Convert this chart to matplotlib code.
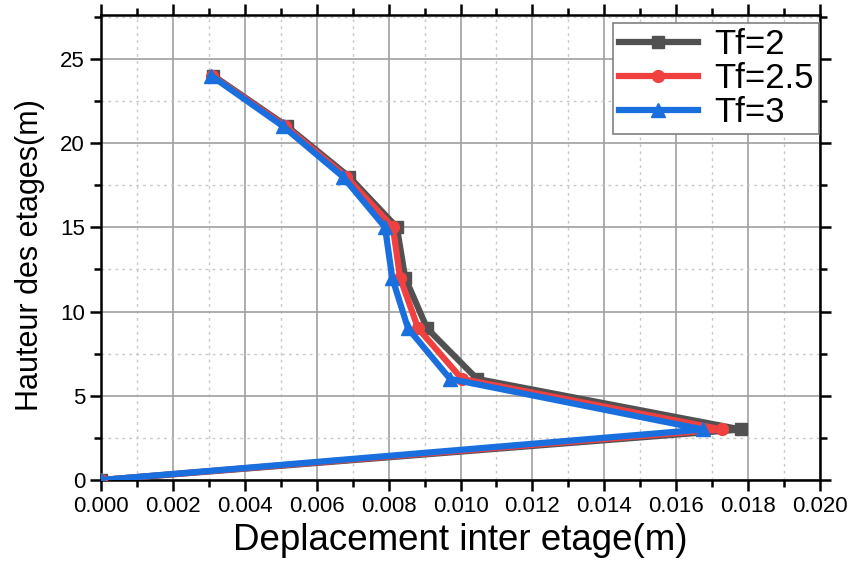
import matplotlib as mpl
mpl.use('Agg')
import matplotlib.pyplot as plt
from matplotlib.ticker import MultipleLocator, FormatStrFormatter

plt.rcParams['font.family'] = ['Liberation Sans', 'DejaVu Sans']

# Hauteurs des etages (m)
hauteur = [0, 3, 6, 9, 12, 15, 18, 21, 24]

# Deplacement inter etage (m) pour chaque periode
tf2 = [0.0, 0.0178, 0.01046, 0.00907, 0.00846, 0.00823, 0.00690, 0.00517, 0.00312]
tf25 = [0.0, 0.01727, 0.01004, 0.00882, 0.00832, 0.00812, 0.00682, 0.00512, 0.00309]
tf3 = [0.0, 0.01675, 0.00971, 0.00854, 0.00810, 0.00790, 0.00673, 0.00506, 0.00306]

fig = plt.figure(figsize=(8.51, 5.63), dpi=100)
ax = fig.add_axes([0.1187, 0.1474, 0.8449, 0.826])

ax.plot(tf2, hauteur, color='#515151', lw=4.5, marker='s', ms=8, label='Tf=2', zorder=3)
ax.plot(tf25, hauteur, color='#F14040', lw=4.5, marker='o', ms=8.5, label='Tf=2.5', zorder=4)
ax.plot(tf3, hauteur, color='#1A6FDF', lw=4.5, marker='^', ms=10, label='Tf=3', zorder=5)

ax.set_xlim(0, 0.020)
ax.set_ylim(0, 27.6)
ax.xaxis.set_major_locator(MultipleLocator(0.002))
ax.xaxis.set_minor_locator(MultipleLocator(0.001))
ax.xaxis.set_major_formatter(FormatStrFormatter('%.3f'))
ax.yaxis.set_major_locator(MultipleLocator(5))
ax.yaxis.set_minor_locator(MultipleLocator(2.5))

ax.grid(True, which='major', color='#a0a0a0', lw=1.2, ls='-')
ax.grid(True, which='minor', color='#c8c8c8', lw=1.0, ls=(0, (2, 3)))
ax.set_axisbelow(True)

for sp in ax.spines.values():
    sp.set_linewidth(1.8)
ax.tick_params(which='both', direction='out', top=True, right=True,
               labeltop=False, labelright=False, width=1.8)
ax.tick_params(which='major', length=8, labelsize=16)
ax.tick_params(which='minor', length=5)

ax.set_xlabel('Deplacement inter etage(m)', fontsize=26.5, labelpad=4)
ax.set_ylabel('Hauteur des etages(m)', fontsize=22,
              family=['Liberation Sans Narrow', 'Liberation Sans'])
ax.yaxis.set_label_coords(-0.078, 0.484)

leg = ax.legend(loc='upper right', fontsize=25, handlelength=2.3, borderaxespad=0.1,
                fancybox=False, framealpha=1, edgecolor='#808080',
                labelspacing=0.02, handletextpad=0.45, borderpad=0.15,
                bbox_to_anchor=(1.003, 0.99))
leg.get_frame().set_linewidth(1.2)

fig.savefig('out.png', dpi=100)
